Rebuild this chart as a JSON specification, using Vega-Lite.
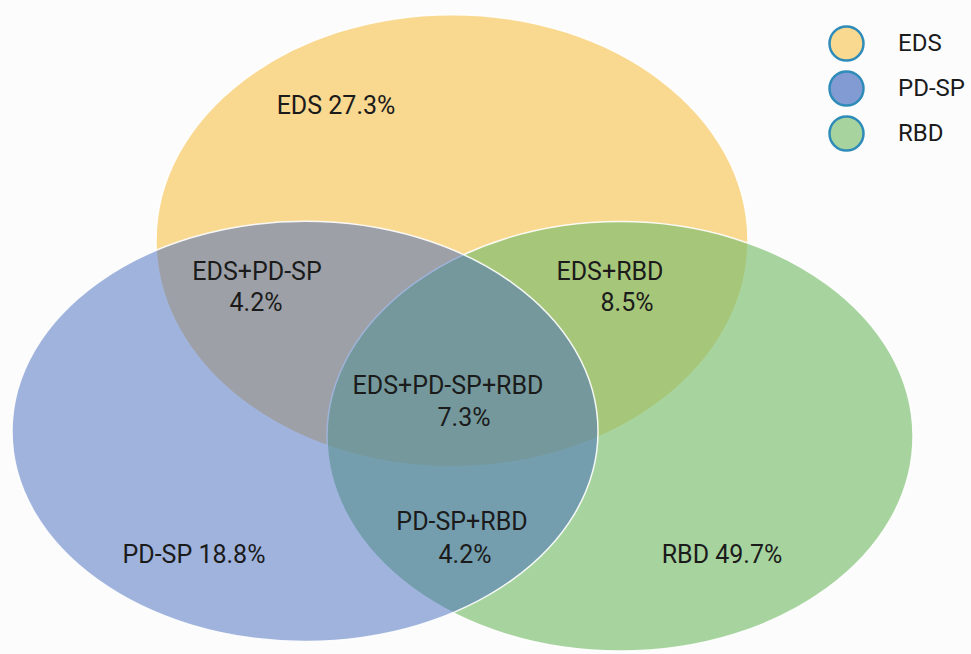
{
  "$schema": "https://vega.github.io/schema/vega-lite/v6.json",
  "width": 971,
  "height": 654,
  "autosize": {"type": "fit", "contains": "padding"},
  "padding": 0,
  "background": "#fcfcfd",
  "config": {"view": {"stroke": null}},
  "datasets": {
    "sets": [
      {"set": "EDS", "cx": 452, "cy": 241},
      {"set": "RBD", "cx": 620, "cy": 437},
      {"set": "PD-SP", "cx": 305, "cy": 432}
    ],
    "labels": [
      {"label": "EDS 27.3%", "x": 336, "y": 106},
      {"label": "EDS+PD-SP", "x": 257, "y": 272},
      {"label": "4.2%", "x": 256, "y": 303},
      {"label": "EDS+RBD", "x": 610, "y": 272},
      {"label": "8.5%", "x": 627, "y": 303},
      {"label": "EDS+PD-SP+RBD", "x": 448, "y": 387},
      {"label": "7.3%", "x": 464, "y": 419},
      {"label": "PD-SP+RBD", "x": 462, "y": 523},
      {"label": "4.2%", "x": 465, "y": 556},
      {"label": "PD-SP 18.8%", "x": 194, "y": 556},
      {"label": "RBD 49.7%", "x": 722, "y": 556}
    ]
  },
  "layer": [
    {
      "data": {"name": "sets"},
      "mark": {"type": "point", "filled": true, "shape": "circle", "size": 0, "opacity": 1},
      "encoding": {
        "x": {"field": "cx", "type": "quantitative", "scale": {"domain": [0, 971], "nice": false, "zero": false}, "axis": null},
        "y": {"field": "cy", "type": "quantitative", "scale": {"domain": [0, 654], "nice": false, "zero": false, "reverse": true}, "axis": null},
        "color": {
          "field": "set", "type": "nominal",
          "scale": {"domain": ["EDS", "PD-SP", "RBD"], "range": ["#f7c556", "#4169bd", "#79bd6d"]},
          "legend": {
            "title": null,
            "orient": "none",
            "legendX": 828,
            "legendY": 25,
            "padding": 0,
            "symbolType": "circle",
            "symbolSize": 1156,
            "symbolStrokeColor": "#2f8cb8",
            "symbolStrokeWidth": 2.5,
            "symbolOpacity": 1,
            "labelFont": "Roboto",
            "labelFontSize": 24,
            "labelColor": "#1b1b1b",
            "labelOffset": 33,
            "rowPadding": 0,
            "encode": {
              "symbols": {
                "update": {
                  "shape": {"value": "circle"},
                  "size": {"value": 1156},
                  "fillOpacity": {"value": 0.65},
                  "stroke": {"value": "#2f8cb8"},
                  "strokeWidth": {"value": 2.5},
                  "strokeOpacity": {"value": 1}
                }
              }
            }
          }
        }
      }
    },
    {
      "data": {"name": "sets"},
      "transform": [{"filter": "datum.set === 'EDS'"}],
      "mark": {"type": "point", "filled": true, "opacity": 1, "fillOpacity": 0.65, "stroke": "white", "strokeWidth": 1.5, "strokeOpacity": 0.9, "size": 350464, "shape": "M-1,0A1,0.7635,0,1,1,1,0A1,0.7635,0,1,1,-1,0Z"},
      "encoding": {
        "x": {"field": "cx", "type": "quantitative", "axis": null},
        "y": {"field": "cy", "type": "quantitative", "axis": null},
        "color": {"field": "set", "type": "nominal", "legend": null}
      }
    },
    {
      "data": {"name": "sets"},
      "transform": [{"filter": "datum.set === 'RBD'"}],
      "mark": {"type": "point", "filled": true, "opacity": 1, "fillOpacity": 0.65, "stroke": "white", "strokeWidth": 1.5, "strokeOpacity": 0.9, "size": 343396, "shape": "M-1,0A1,0.733,0,1,1,1,0A1,0.733,0,1,1,-1,0Z"},
      "encoding": {
        "x": {"field": "cx", "type": "quantitative", "axis": null},
        "y": {"field": "cy", "type": "quantitative", "axis": null},
        "color": {"field": "set", "type": "nominal", "legend": null}
      }
    },
    {
      "data": {"name": "sets"},
      "transform": [{"filter": "datum.set === 'PD-SP'"}],
      "mark": {"type": "point", "filled": true, "opacity": 1, "fillOpacity": 0.5, "stroke": "white", "strokeWidth": 1.5, "strokeOpacity": 0.9, "size": 343396, "shape": "M-1,0A1,0.717,0,1,1,1,0A1,0.717,0,1,1,-1,0Z"},
      "encoding": {
        "x": {"field": "cx", "type": "quantitative", "axis": null},
        "y": {"field": "cy", "type": "quantitative", "axis": null},
        "color": {"field": "set", "type": "nominal", "legend": null}
      }
    },
    {
      "data": {"name": "labels"},
      "mark": {"type": "text", "font": "Roboto", "fontSize": 25, "color": "#1b1b1b", "align": "center", "baseline": "middle"},
      "encoding": {
        "x": {"field": "x", "type": "quantitative", "axis": null},
        "y": {"field": "y", "type": "quantitative", "axis": null},
        "text": {"field": "label", "type": "nominal"}
      }
    }
  ]
}
